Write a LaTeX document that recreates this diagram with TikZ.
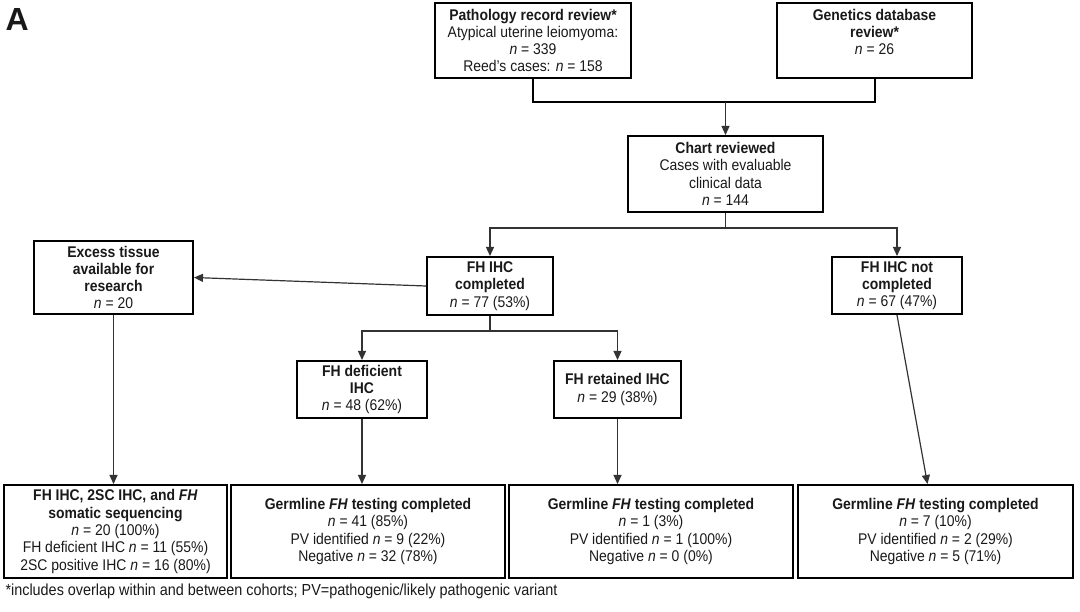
\documentclass[tikz,border=0pt]{standalone}
\usepackage{fontspec}
\setmainfont{Liberation Sans}[FakeStretch=0.9]
\newfontfamily\panelfont{Liberation Sans}
\usetikzlibrary{arrows.meta}
\usetikzlibrary{positioning}

\begin{document}
\begin{tikzpicture}[x=1pt,y=-1pt,>={Triangle[length=9pt,width=8pt]}]
	\tikzstyle{every node}=[font=\fontsize{15.5}{17.3}\selectfont, text=black!90]
	\tikzstyle{box}=[draw=black, line width=2pt, align=center, inner sep=1pt]
	\tikzstyle{link}=[draw=black!80, line width=1.2pt]
	\useasboundingbox (0,0) rectangle (1080,612);

	\node[anchor=west, font=\panelfont\bfseries\fontsize{32}{32}\selectfont] (panel) at (2,19) {A};

	% top row
	\node[box, minimum width=196pt, minimum height=75pt] (path) at (533,40.5) {\textbf{Pathology record review*}\\Atypical uterine leiomyoma:\\\textit{n} = 339\\Reed's cases: \textit{n} = 158};
	\node[box, minimum width=195pt, minimum height=75pt] (gen) at (874.5,40.5) {\textbf{Genetics database}\\\textbf{review*}\\\textit{n} = 26\\\mbox{}};
	\node[box, minimum width=195pt, minimum height=76pt] (chart) at (725.5,174) {\textbf{Chart reviewed}\\Cases with evaluable\\clinical data\\\textit{n} = 144};

	% middle rows
	\node[box, minimum width=159pt, minimum height=73pt] (excess) at (113.5,277.5) {\textbf{Excess tissue}\\\textbf{available for}\\\textbf{research}\\\textit{n} = 20};
	\node[box, minimum width=126pt, minimum height=58pt] (done) at (490,286) {\textbf{FH IHC}\\\textbf{completed}\\\textit{n} = 77 (53\%)};
	\node[box, minimum width=130pt, minimum height=57pt] (notdone) at (897,285.5) {\textbf{FH IHC not}\\\textbf{completed}\\\textit{n} = 67 (47\%)};
	\node[box, minimum width=130pt, minimum height=57pt] (defic) at (362,389.5) {\textbf{FH deficient}\\\textbf{IHC}\\\textit{n} = 48 (62\%)};
	\node[box, minimum width=127pt, minimum height=57pt] (retain) at (617.5,389.5) {\textbf{FH retained IHC}\\\textit{n} = 29 (38\%)};

	% bottom row
	\node[box, minimum width=223pt, minimum height=93pt] (b1) at (115.5,531.5) {\textbf{FH IHC, 2SC IHC, and \textit{FH}}\\\textbf{somatic sequencing}\\\textit{n} = 20 (100\%)\\FH deficient IHC \textit{n} = 11 (55\%)\\2SC positive IHC \textit{n} = 16 (80\%)};
	\node[box, minimum width=274pt, minimum height=93pt] (b2) at (368,531.5) {\textbf{Germline \textit{FH} testing completed}\\\textit{n} = 41 (85\%)\\PV identified \textit{n} = 9 (22\%)\\Negative \textit{n} = 32 (78\%)};
	\node[box, minimum width=284pt, minimum height=93pt] (b3) at (651,531.5) {\textbf{Germline \textit{FH} testing completed}\\\textit{n} = 1 (3\%)\\PV identified \textit{n} = 1 (100\%)\\Negative \textit{n} = 0 (0\%)};
	\node[box, minimum width=275pt, minimum height=93pt] (b4) at (935.5,531.5) {\textbf{Germline \textit{FH} testing completed}\\\textit{n} = 7 (10\%)\\PV identified \textit{n} = 2 (29\%)\\Negative \textit{n} = 5 (71\%)};

	\node[anchor=west, font=\fontsize{16}{18}\selectfont] (note) at (2,591) {*includes overlap within and between cohorts; PV=pathogenic/likely pathogenic variant};

	% connectors
	\coordinate (join) at (725.5,102);
	\coordinate (split) at (725.5,228);
	\coordinate (split2) at (490,331);
	\draw[line width=2pt] (path.south) |- (join) -| (gen.south);
	\draw[link,->] (join) -- (chart.north);
	\draw[link] (chart.south) -- (split);
	\draw[link,->] (split) -| (done.north);
	\draw[link,->] (split) -| (notdone.north);
	\draw[link,->] (done.west) -- (excess.east);
	\draw[link] (done.south) -- (split2);
	\draw[link,->] (split2) -| (defic.north);
	\draw[link,->] (split2) -| (retain.north);
	\foreach \a/\b in {excess/b1,defic/b2,retain/b3}{
		\draw[link,->] (\a.south) -- (\a.south |- \b.north);
	}
	\draw[link,->] (notdone.south) -- ([xshift=-8pt]b4.north);
\end{tikzpicture}
\end{document}
